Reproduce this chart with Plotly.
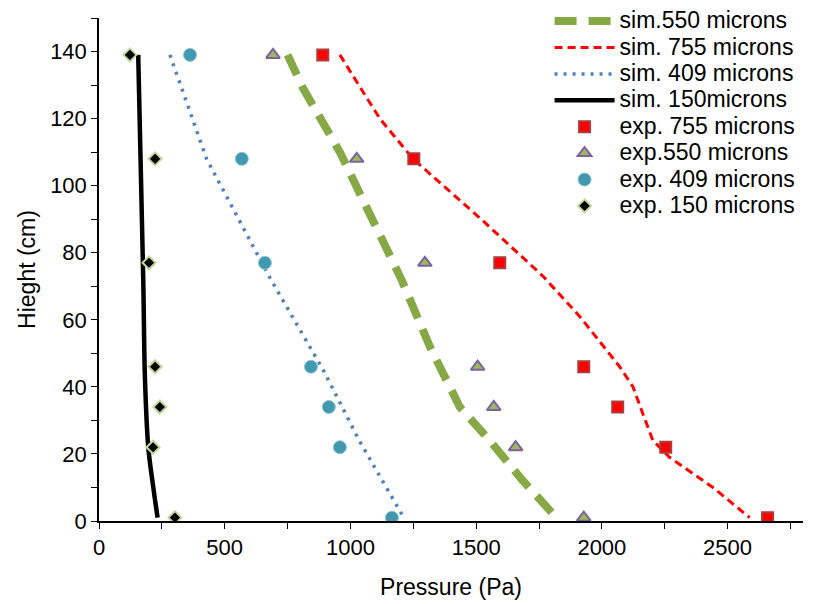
import plotly.graph_objects as go

# Experimental heights (cm)
exp_h = [139, 108, 77, 46, 34, 22, 1]
exp_755 = [890, 1252, 1594, 1928, 2063, 2254, 2659]
exp_550 = [692, 1025, 1296, 1506, 1570, 1657, 1928]
exp_409 = [362, 568, 660, 843, 914, 958, 1165]
exp_150 = [123, 223, 199, 223, 242, 215, 302]

# Simulated curves
sim550_h = [139, 129, 110, 91.5, 81, 72, 52, 34, 24, 12, 1]
sim550_p = [750, 812, 958, 1077, 1143, 1203, 1316, 1435, 1554, 1686, 1819]
sim755_h = [139, 120, 108, 90, 73, 61, 46, 40, 32, 24, 19, 10, 1]
sim755_p = [958, 1117, 1249, 1520, 1766, 1912, 2071, 2124, 2163, 2203, 2269, 2442, 2588]
sim409_h = [139, 108, 73, 45, 24, 8, 1]
sim409_p = [282, 428, 676, 892, 1035, 1157, 1212]
sim150_h = [139, 72, 42, 22, 10, 1]
sim150_p = [156, 176, 183, 196, 216, 233]

FONT = "Liberation Sans, Arial, sans-serif"

def lbl(t):
    return '<span style="font-size:23px">' + t + '</span>'

fig = go.Figure()
fig.add_trace(go.Scatter(x=sim550_p, y=sim550_h, mode="lines", name=lbl("sim.550 microns"),
                         line=dict(color="#86A845", width=8, dash="22px,12px")))
fig.add_trace(go.Scatter(x=sim755_p, y=sim755_h, mode="lines", name=lbl("sim. 755 microns"),
                         line=dict(color="#FF0000", width=3, dash="8px,5px")))
fig.add_trace(go.Scatter(x=sim409_p, y=sim409_h, mode="lines", name=lbl("sim. 409 microns"),
                         line=dict(color="#4F81BD", width=3.5, dash="3px,6px")))
fig.add_trace(go.Scatter(x=sim150_p, y=sim150_h, mode="lines", name=lbl("sim. 150microns"),
                         line=dict(color="#000000", width=4.5, shape="spline")))
fig.add_trace(go.Scatter(x=exp_755, y=exp_h, mode="markers", name=lbl("exp. 755 microns"),
                         marker=dict(symbol="square", size=11, color="#FF0000",
                                     line=dict(color="#B03A3A", width=2))))
fig.add_trace(go.Scatter(x=exp_550, y=exp_h, mode="markers", name=lbl("exp.550 microns"),
                         marker=dict(symbol="triangle-up", size=12, color="#9BBB59",
                                     line=dict(color="#7E62A0", width=2))))
fig.add_trace(go.Scatter(x=exp_409, y=exp_h, mode="markers", name=lbl("exp. 409 microns"),
                         marker=dict(symbol="circle", size=13, color="#4198AF",
                                     line=dict(color="#8CC4D4", width=1))))
fig.add_trace(go.Scatter(x=exp_150, y=exp_h, mode="markers", name=lbl("exp. 150 microns"),
                         marker=dict(symbol="diamond", size=10, color="#000000",
                                     line=dict(color="#C3D69B", width=2))))

fig.update_layout(
    width=818, height=604,
    margin=dict(l=99, r=15, t=18, b=83, autoexpand=False),
    paper_bgcolor="white", plot_bgcolor="white",
    font=dict(family=FONT, size=22, color="#000000"),
    showlegend=True,
    legend=dict(x=0.64, y=1.03, xanchor="left", yanchor="top",
                font=dict(family=FONT, size=18), bgcolor="rgba(0,0,0,0)",
                tracegroupgap=0, itemwidth=60),
    xaxis=dict(range=[0, 2800], tickmode="linear", tick0=0, dtick=500,
               showgrid=False, zeroline=False, showline=True, linecolor="#000", linewidth=1.5,
               ticks="outside", ticklen=6, tickcolor="#000",
               minor=dict(dtick=250, ticks="outside", ticklen=6, tickcolor="#000", showgrid=False),
               title=dict(text="Pressure (Pa)", font=dict(size=23), standoff=20),
               tickfont=dict(size=22)),
    yaxis=dict(range=[0, 150], tickmode="linear", tick0=0, dtick=20,
               showgrid=False, zeroline=False, showline=True, linecolor="#000", linewidth=1.5,
               ticks="outside", ticklen=6, tickcolor="#000",
               minor=dict(dtick=10, ticks="outside", ticklen=6, tickcolor="#000", showgrid=False),
               title=dict(text="Hieght (cm)", font=dict(size=23), standoff=8),
               tickfont=dict(size=22)),
)

fig.write_html("out.html")
